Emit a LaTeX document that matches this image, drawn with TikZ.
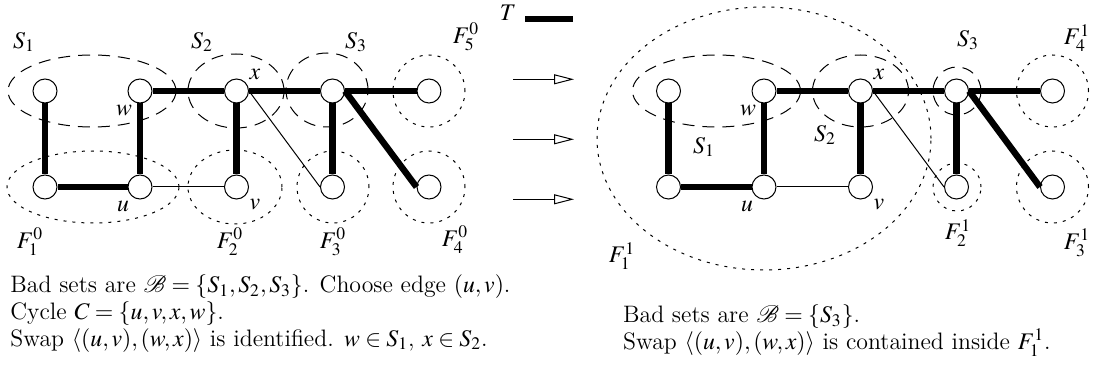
\documentclass[tikz,border=0pt]{standalone}
\usepackage{mathptmx}
\usepackage{mathrsfs}
\usetikzlibrary{arrows.meta}
\begin{document}
\begin{tikzpicture}[x=0.5pt,y=-0.5pt,
  font=\fontsize{11.9}{13.3}\selectfont,
  vert/.style={circle,draw,fill=white,minimum size=12pt,inner sep=0pt,line width=0.5pt},
  tree/.style={line width=3.2pt},
  nontree/.style={line width=0.5pt},
  badset/.style={line width=0.5pt,dash pattern=on 6pt off 4pt},
  fset/.style={line width=0.5pt,dash pattern=on 1.5pt off 3pt},
  lab/.style={inner sep=0pt},
  txt/.style={inner sep=0pt,anchor=base west},
  arr/.style={line width=0.5pt,-{Triangle[open,length=10pt,width=5pt]}}]
\useasboundingbox (0,0) rectangle (1097,379);

% ---------- left graph ----------
\coordinate (pa1) at (45,91);   \coordinate (pb1) at (45,187);
\coordinate (pa2) at (140,91);  \coordinate (pb2) at (140,187);
\coordinate (pa3) at (236.5,91);\coordinate (pb3) at (236.5,187);
\coordinate (pa4) at (332.5,91);\coordinate (pb4) at (332.5,187);
\coordinate (pa5) at (429,91);  \coordinate (pb5) at (429,187);

% sets
\draw[badset] (92,91) ellipse [x radius=42pt, y radius=18pt];
\draw[badset] (236,91) ellipse [x radius=24pt, y radius=18.5pt];
\draw[badset] (327,90) ellipse [x radius=20.5pt, y radius=18.5pt];
\draw[fset] (429,91) circle [radius=18pt];
\draw[fset] (93,187) ellipse [x radius=43pt, y radius=18pt];
\draw[fset] (235,187) ellipse [x radius=23.5pt, y radius=18.5pt];
\draw[fset] (333,187) circle [radius=18pt];
\draw[fset] (429,187) circle [radius=18pt];

\node[vert] (a1) at (pa1) {}; \node[vert] (b1) at (pb1) {};
\node[vert] (a2) at (pa2) {}; \node[vert] (b2) at (pb2) {};
\node[vert] (a3) at (pa3) {}; \node[vert] (b3) at (pb3) {};
\node[vert] (a4) at (pa4) {}; \node[vert] (b4) at (pb4) {};
\node[vert] (a5) at (pa5) {}; \node[vert] (b5) at (pb5) {};

\draw[tree] (a1) -- (b1);
\draw[tree] (b1) -- (b2);
\draw[tree] (a2) -- (b2);
\draw[tree] (a2) -- (a3);
\draw[tree] (a3) -- (b3);
\draw[tree] (a3) -- (a4);
\draw[tree] (a4) -- (b4);
\draw[tree] (a4) -- (a5);
\draw[tree] (a4.east) -- (b5.west);
\draw[nontree] (b2) -- (b3);
\draw[nontree] (a3.east) -- (b4.west);

\node[lab] (lS1) at (24,42) {$S_1$};
\node[lab] (lS2) at (202,42) {$S_2$};
\node[lab] (lS3) at (356,42) {$S_3$};
\node[lab] (lF5) at (466,37) {$F_5^0$};
\node[lab] (lx) at (255,74) {$x$};
\node[lab] (lw) at (124,111) {$w$};
\node[lab] (lu) at (123,206) {$u$};
\node[lab] (lv) at (255,205) {$v$};
\node[lab] (lF1) at (30,242) {$F_1^0$};
\node[lab] (lF2) at (230,242) {$F_2^0$};
\node[lab] (lF3) at (333,242) {$F_3^0$};
\node[lab] (lF4) at (455,240) {$F_4^0$};

% ---------- legend and arrows ----------
\node[lab] (T) at (508,13) {$T$};
\coordinate (T1) at (525,19); \coordinate (T2) at (573,19);
\draw[tree] (T1) -- (T2);
\coordinate (s1) at (513,79.3);  \coordinate (e1) at (574,79.3);
\coordinate (s2) at (513,139.3); \coordinate (e2) at (574,139.3);
\coordinate (s3) at (513,199.3); \coordinate (e3) at (574,199.3);
\draw[arr] (s1) -- (e1);
\draw[arr] (s2) -- (e2);
\draw[arr] (s3) -- (e3);

% ---------- right graph ----------
\coordinate (qc1) at (668.5,91);  \coordinate (qd1) at (668.5,187);
\coordinate (qc2) at (764,91);    \coordinate (qd2) at (764,187);
\coordinate (qc3) at (860.5,91);  \coordinate (qd3) at (860.5,187);
\coordinate (qc4) at (956.5,91);  \coordinate (qd4) at (956.5,187);
\coordinate (qc5) at (1052.5,91); \coordinate (qd5) at (1052.5,187);

\draw[fset] (764,138.5) ellipse [x radius=83.5pt, y radius=65.75pt];
\draw[badset] (716.5,91) ellipse [x radius=42pt, y radius=18pt];
\draw[badset] (860.5,91) ellipse [x radius=24pt, y radius=18pt];
\draw[badset] (957,91) circle [radius=12pt];
\draw[fset] (957,187) circle [radius=12pt];
\draw[fset] (1052.5,91) circle [radius=18pt];
\draw[fset] (1052.5,187) circle [radius=18pt];

\node[vert] (c1) at (qc1) {}; \node[vert] (d1) at (qd1) {};
\node[vert] (c2) at (qc2) {}; \node[vert] (d2) at (qd2) {};
\node[vert] (c3) at (qc3) {}; \node[vert] (d3) at (qd3) {};
\node[vert] (c4) at (qc4) {}; \node[vert] (d4) at (qd4) {};
\node[vert] (c5) at (qc5) {}; \node[vert] (d5) at (qd5) {};

\draw[tree] (c1) -- (d1);
\draw[tree] (d1) -- (d2);
\draw[tree] (c2) -- (d2);
\draw[tree] (c2) -- (c3);
\draw[tree] (c3) -- (d3);
\draw[tree] (c3) -- (c4);
\draw[tree] (c4) -- (d4);
\draw[tree] (c4) -- (c5);
\draw[tree] (c4.east) -- (d5.west);
\draw[nontree] (d2) -- (d3);
\draw[nontree] (c3.east) -- (d4.west);

\node[lab] (rS3) at (968,40) {$S_3$};
\node[lab] (rF4) at (1077,38) {$F_4^1$};
\node[lab] (rx) at (879,74) {$x$};
\node[lab] (rS2) at (825,135) {$S_2$};
\node[lab] (rS1) at (704,147) {$S_1$};
\node[lab] (rw) at (748,111) {$w$};
\node[lab] (ru) at (747,206) {$u$};
\node[lab] (rv) at (879,205) {$v$};
\node[lab] (rF1) at (622,256) {$F_1^1$};
\node[lab] (rF2) at (958,233) {$F_2^1$};
\node[lab] (rF3) at (1077,243) {$F_3^1$};

% ---------- captions ----------
\node[txt] (L1) at (10,292.7) {Bad sets are $\mathscr{B}=\{S_1,S_2,S_3\}$. Choose edge $(u,v)$.};
\node[txt] (L2) at (10,319.3) {Cycle $C=\{u,v,x,w\}$.};
\node[txt] (L3) at (10,346) {Swap $\langle(u,v),(w,x)\rangle$ is identified. $w\in S_1$, $x\in S_2$.};
\node[txt] (R1) at (622.7,322.7) {Bad sets are $\mathscr{B}=\{S_3\}$.};
\node[txt] (R2) at (622.7,349.3) {Swap $\langle(u,v),(w,x)\rangle$ is contained inside $F_1^1$.};
\end{tikzpicture}
\end{document}
